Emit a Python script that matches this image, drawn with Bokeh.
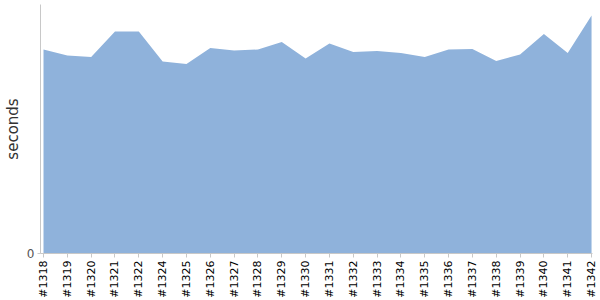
from math import pi
from bokeh.plotting import figure
from bokeh.models import Range1d, FixedTicker
from bokeh.embed import file_html
from bokeh.resources import INLINE

builds = ["#1318", "#1319", "#1320", "#1321", "#1322", "#1324", "#1325", "#1326",
          "#1327", "#1328", "#1329", "#1330", "#1331", "#1332", "#1333", "#1334",
          "#1335", "#1336", "#1337", "#1338", "#1339", "#1340", "#1341", "#1342"]
seconds = [204, 198, 196.5, 222, 222, 192, 189.5, 205.5, 203, 204, 211.5, 195,
           210, 201.5, 202.5, 200.5, 196.5, 204, 204.5, 192.5, 199, 219.5, 200.5, 238]
x = list(range(len(builds)))

p = figure(width=600, height=300, output_backend="svg", toolbar_location=None,
           x_range=Range1d(-0.126, 23.04), y_range=Range1d(0, 249),
           min_border_left=40, min_border_right=8, min_border_top=4, min_border_bottom=47)
p.outline_line_color = None
p.grid.visible = False
p.background_fill_color = "white"

p.varea(x=x, y1=0, y2=seconds, fill_color="#8fb2db", fill_alpha=1.0)

p.xaxis.ticker = FixedTicker(ticks=x)
p.xaxis.major_label_overrides = {i: b for i, b in enumerate(builds)}
p.xaxis.major_label_orientation = pi / 2
p.xaxis.major_label_text_font = "DejaVu Sans"
p.xaxis.major_label_text_font_size = "11px"
p.xaxis.major_label_text_color = "#000000"
p.xaxis.axis_line_color = "#c8c8c8"
p.xaxis.major_tick_line_color = "#c8c8c8"
p.xaxis.major_tick_out = 4
p.xaxis.major_tick_in = 0
p.xaxis.minor_tick_line_color = None
p.xaxis.major_label_standoff = 3

p.yaxis.ticker = FixedTicker(ticks=[0])
p.yaxis.axis_label = "seconds"
p.yaxis.axis_label_text_font = "DejaVu Sans"
p.yaxis.axis_label_text_font_size = "15px"
p.yaxis.axis_label_text_font_style = "normal"
p.yaxis.axis_label_text_color = "#333333"
p.yaxis.axis_label_standoff = 2
p.yaxis.major_label_text_font = "DejaVu Sans"
p.yaxis.major_label_text_font_size = "12px"
p.yaxis.major_label_text_color = "#555555"
p.yaxis.axis_line_color = "#c8c8c8"
p.yaxis.major_tick_line_color = "#c8c8c8"
p.yaxis.major_tick_out = 3
p.yaxis.major_tick_in = 0
p.yaxis.minor_tick_line_color = None
p.yaxis.major_label_standoff = 3

open("out.html", "w").write(file_html(p, INLINE))
